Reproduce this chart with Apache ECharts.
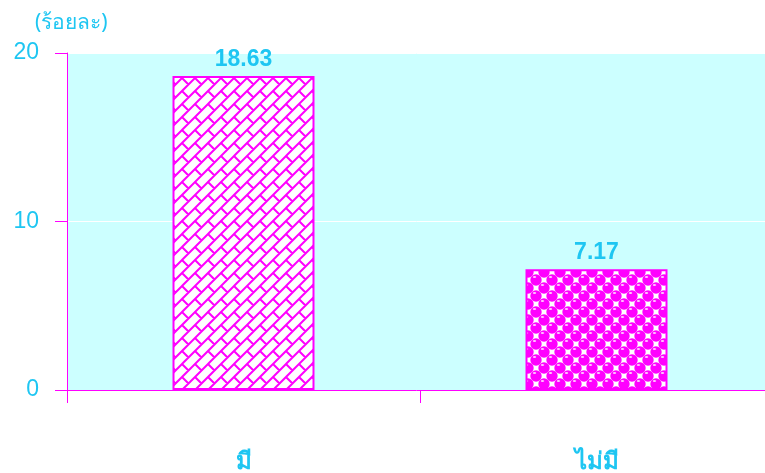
<!DOCTYPE html>
<html>
<head>
<meta charset="utf-8">
<script src="https://cdn.jsdelivr.net/npm/echarts@6/dist/echarts.min.js"></script>
<style>
html,body{margin:0;padding:0;background:#fff;}
#main{width:765px;height:473px;}
</style>
</head>
<body>
<div id="main"></div>
<script>
// Data
var categories = ['มี', 'ไม่มี'];
var values = [18.63, 7.17];
var yTicks = [0, 10, 20];
var unitLabel = '(ร้อยละ)';

var CYAN = '#1ec6f2';
var MAG = '#ff00ff';

function brickPattern() {
  var P = 13, T = 26;
  var c = document.createElement('canvas');
  c.width = T; c.height = T;
  var g = c.getContext('2d');
  g.fillStyle = '#ffffff';
  g.fillRect(0, 0, T, T);
  g.strokeStyle = MAG;
  g.lineWidth = 2;
  g.beginPath();
  for (var cc = -3 * T; cc <= 4 * T; cc += P) {
    g.moveTo(cc + 2 * T, -2 * T);
    g.lineTo(-2 * T, cc + 2 * T);
  }
  for (var k = -8; k <= 12; k++) {
    for (var m = -4; m <= 4; m++) {
      var d = T * m + ((Math.abs(k) % 2 === 1) ? P : 0);
      var s0 = P * k, s1 = P * k + P;
      g.moveTo((s0 + d) / 2, (s0 - d) / 2);
      g.lineTo((s1 + d) / 2, (s1 - d) / 2);
    }
  }
  g.stroke();
  return c;
}

function dotPattern() {
  var n = 16, r = 5.7;
  var c = document.createElement('canvas');
  c.width = n; c.height = n;
  var g = c.getContext('2d');
  g.fillStyle = '#ffffff';
  g.fillRect(0, 0, n, n);
  var pts = [[0, 0], [n, 0], [0, n], [n, n], [n / 2, n / 2]];
  pts.forEach(function (p) {
    g.fillStyle = MAG;
    g.beginPath();
    g.arc(p[0], p[1], r, 0, Math.PI * 2);
    g.fill();
    g.fillStyle = '#ffc8ff';
    g.beginPath();
    g.ellipse(p[0] - 1.5, p[1] - 3, 1.7, 0.9, 0, 0, Math.PI * 2);
    g.fill();
  });
  return c;
}

var patterns = [brickPattern(), dotPattern()];

var chart = echarts.init(document.getElementById('main'), null, {renderer: 'canvas'});
chart.setOption({
  animation: false,
  backgroundColor: '#ffffff',
  title: {
    text: unitLabel,
    left: 30,
    top: 8,
    textStyle: {color: CYAN, fontSize: 21, fontWeight: 'normal', fontFamily: 'Noto Sans, DejaVu Sans, sans-serif'}
  },
  grid: {
    left: 67, width: 706, top: 53, height: 337,
    outerBoundsMode: 'none',
    containLabel: false,
    show: true, backgroundColor: '#ccffff', borderWidth: 0
  },
  xAxis: {
    type: 'category',
    data: categories,
    axisLine: {show: true, lineStyle: {color: MAG, width: 1}},
    axisTick: {show: true, length: 13, lineStyle: {color: MAG}},
    axisLabel: {color: CYAN, fontSize: 24, fontWeight: 'bold', margin: 60, fontFamily: 'Noto Sans, DejaVu Sans, sans-serif'},
    splitLine: {show: false}
  },
  yAxis: {
    type: 'value',
    min: yTicks[0],
    max: yTicks[yTicks.length - 1],
    interval: yTicks[1] - yTicks[0],
    axisLine: {show: true, lineStyle: {color: MAG, width: 1}},
    axisTick: {show: true, length: 12, lineStyle: {color: MAG}},
    axisLabel: {color: CYAN, fontSize: 23, margin: 28, fontFamily: 'Arial, Liberation Sans, sans-serif'},
    splitLine: {show: true, lineStyle: {color: '#ffffff', width: 1}}
  },
  series: [{
    type: 'bar',
    barWidth: 142,
    data: values.map(function (v, i) {
      return {
        value: v,
        itemStyle: {
          color: {image: patterns[i], repeat: 'repeat'},
          borderColor: MAG,
          borderWidth: 2
        }
      };
    }),
    label: {
      show: true,
      position: 'top',
      distance: 5,
      color: CYAN,
      fontSize: 23,
      fontWeight: 'bold',
      fontFamily: 'Arial, Liberation Sans, sans-serif',
      formatter: function (p) { return p.value.toFixed(2); }
    }
  }]
});
</script>
</body>
</html>
